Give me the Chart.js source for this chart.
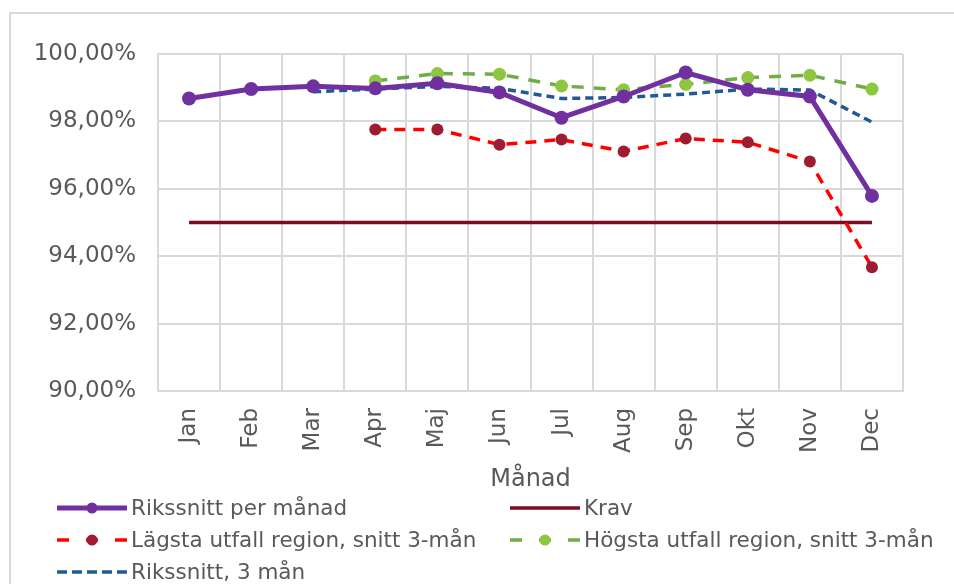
<!DOCTYPE html>
<html>
<head>
<meta charset="utf-8">
<script src="https://cdn.jsdelivr.net/npm/chart.js@4.4.0/dist/chart.umd.min.js"></script>
<style>
    html, body { margin: 0; padding: 0; background: #fff; }
    #wrap { position: relative; width: 954px; height: 584px; overflow: hidden; }
    #frame { position: absolute; left: 9px; top: 12px; width: 1000px; height: 700px; border: 2px solid #d9d9d9; }
    canvas { position: absolute; left: 0; top: 0; }
</style>
</head>
<body>
<div id="wrap">
    <div id="frame"></div>
    <canvas id="chart" width="954" height="584"></canvas>
</div>
<script>
const months = ["Jan", "Feb", "Mar", "Apr", "Maj", "Jun", "Jul", "Aug", "Sep", "Okt", "Nov", "Dec"];
const rikssnittPerManad = [98.68, 98.96, 99.04, 98.98, 99.13, 98.86, 98.11, 98.74, 99.45, 98.94, 98.74, 95.79];
const krav = [95, 95, 95, 95, 95, 95, 95, 95, 95, 95, 95, 95];
const lagstaRegion = [null, null, null, 97.76, 97.76, 97.31, 97.46, 97.11, 97.49, 97.38, 96.81, 93.67];
const hogstaRegion = [null, null, null, 99.20, 99.42, 99.40, 99.05, 98.94, 99.10, 99.30, 99.37, 98.96];
const rikssnitt3Man = [null, null, 98.88, 98.96, 99.04, 98.98, 98.68, 98.71, 98.81, 98.96, 98.93, 97.98];
const yRange = [90, 100];
const yStep = 2;

const textColor = '#595959';
const gridColor = '#d9d9d9';

// legend drawn in two columns under the axis title
const gridLegend = {
    id: 'gridLegend',
    afterDraw(chart) {
        const ctx = chart.ctx;
        const cols = [57, 510];
        const rows = [508, 540, 572];
        chart.data.datasets.forEach((ds, i) => {
            const x = cols[i % 2];
            const y = rows[Math.floor(i / 2)];
            ctx.save();
            ctx.strokeStyle = ds.borderColor;
            ctx.lineWidth = ds.borderWidth;
            ctx.setLineDash(ds.legendDash || []);
            ctx.beginPath();
            ctx.moveTo(x, y);
            ctx.lineTo(x + 70, y);
            ctx.stroke();
            if (ds.pointRadius > 0) {
                ctx.setLineDash([]);
                ctx.fillStyle = ds.pointBackgroundColor;
                ctx.beginPath();
                ctx.arc(x + 35, y, 5.5, 0, Math.PI * 2);
                ctx.fill();
            }
            ctx.fillStyle = textColor;
            ctx.font = '21.5px "DejaVu Sans"';
            ctx.textBaseline = 'middle';
            ctx.fillText(ds.label, x + 74, y + 1);
            ctx.restore();
        });
    }
};

const ctx = document.getElementById('chart').getContext('2d');
const chart = new Chart(ctx, {
    type: 'line',
    data: {
        labels: months,
        datasets: [
            {
                label: 'Rikssnitt per månad',
                data: rikssnittPerManad,
                borderColor: '#7030A0',
                backgroundColor: '#7030A0',
                pointBackgroundColor: '#7030A0',
                borderWidth: 5,
                pointRadius: 7,
                pointBorderWidth: 0,
                order: 1
            },
            {
                label: 'Krav',
                data: krav,
                borderColor: '#7B0C22',
                backgroundColor: '#7B0C22',
                borderWidth: 3.5,
                pointRadius: 0,
                order: 5
            },
            {
                label: 'Lägsta utfall region, snitt 3-mån',
                data: lagstaRegion,
                borderColor: '#FF0000',
                backgroundColor: '#9E1B32',
                pointBackgroundColor: '#9E1B32',
                borderWidth: 3.5,
                borderDash: [11, 8],
                legendDash: [12, 17],
                pointRadius: 6,
                pointBorderWidth: 0,
                order: 4
            },
            {
                label: 'Högsta utfall region, snitt 3-mån',
                data: hogstaRegion,
                borderColor: '#70AD47',
                backgroundColor: '#8DC63F',
                pointBackgroundColor: '#8DC63F',
                borderWidth: 3.5,
                borderDash: [12, 10],
                legendDash: [12, 17],
                pointRadius: 6.5,
                pointBorderWidth: 0,
                order: 3
            },
            {
                label: 'Rikssnitt, 3 mån',
                data: rikssnitt3Man,
                borderColor: '#1F5A96',
                backgroundColor: '#1F5A96',
                borderWidth: 3.5,
                borderDash: [8, 5],
                legendDash: [10, 5],
                pointRadius: 0,
                order: 2
            }
        ]
    },
    options: {
        responsive: false,
        animation: false,
        devicePixelRatio: 1,
        layout: {
            padding: { left: 0, top: 54, right: 51, bottom: 88 }
        },
        plugins: {
            legend: { display: false },
            tooltip: { enabled: false }
        },
        scales: {
            x: {
                offset: true,
                grid: { offset: true, color: gridColor, lineWidth: 2, drawTicks: false },
                border: { color: gridColor, width: 2 },
                ticks: {
                    color: textColor,
                    font: { family: 'DejaVu Sans', size: 23 },
                    minRotation: 90,
                    maxRotation: 90,
                    padding: 17
                },
                title: {
                    display: true,
                    text: 'Månad',
                    color: textColor,
                    font: { family: 'DejaVu Sans', size: 24 },
                    padding: { top: 0, bottom: 2 }
                },
                afterFit(scale) { scale.height = 105; }
            },
            y: {
                min: yRange[0],
                max: yRange[1],
                grid: { color: gridColor, lineWidth: 2, drawTicks: false },
                border: { color: gridColor, width: 2 },
                ticks: {
                    stepSize: yStep,
                    color: textColor,
                    font: { family: 'DejaVu Sans', size: 23 },
                    padding: 22,
                    callback: v => v.toFixed(2).replace('.', ',') + '%'
                },
                afterFit(scale) { scale.width = 158; }
            }
        }
    },
    plugins: [gridLegend]
});
</script>
</body>
</html>
